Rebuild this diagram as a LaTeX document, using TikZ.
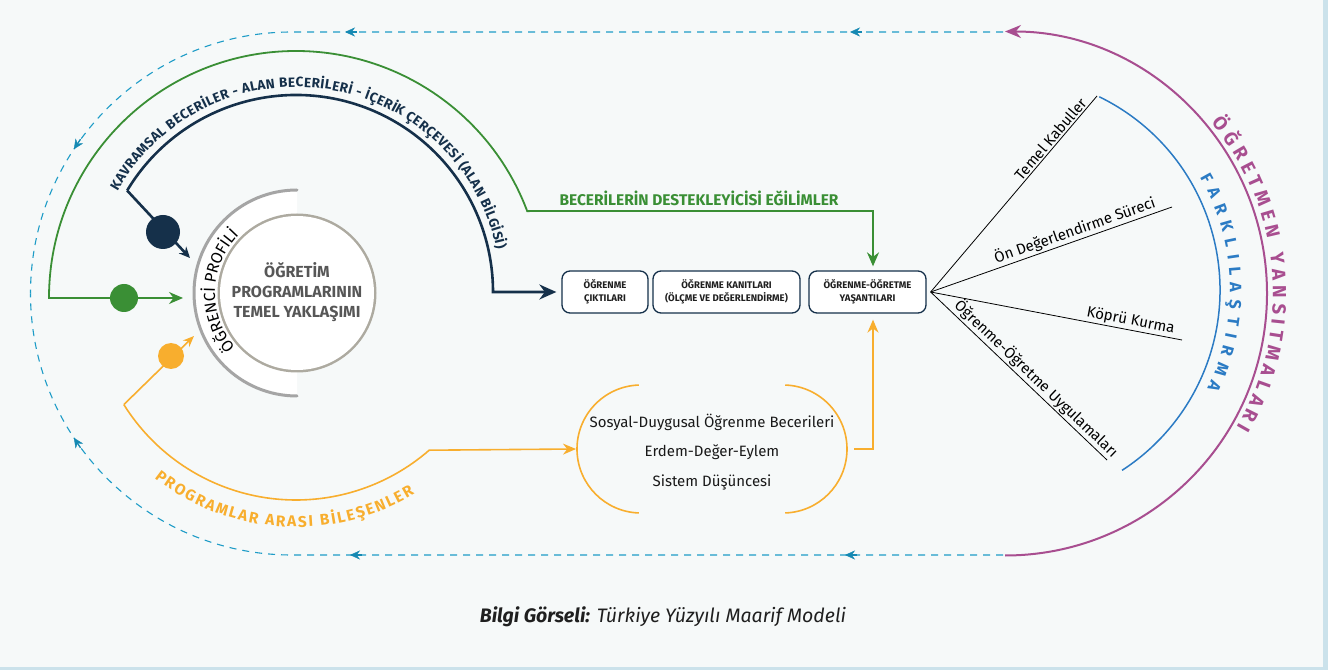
\documentclass[tikz,border=0pt]{standalone}
\usepackage{fontspec}
\setmainfont{Fira Sans}
\usetikzlibrary{arrows.meta,decorations.text,decorations.markings}
\definecolor{bg}{HTML}{F6F9F9}
\definecolor{strip}{HTML}{CBE2EB}
\definecolor{navy}{HTML}{15304A}
\definecolor{grn}{HTML}{3A8F35}
\definecolor{org}{HTML}{F8AE2E}
\definecolor{cyn}{HTML}{1E9CC7}
\definecolor{cyndark}{HTML}{1589B3}
\definecolor{mag}{HTML}{A84E90}
\definecolor{blu}{HTML}{2B7BC4}
\definecolor{ringgray}{HTML}{A5A5A5}
\definecolor{rimgray}{HTML}{ADAAA0}
\definecolor{rimlight}{HTML}{E6E4DC}
\definecolor{txtgray}{HTML}{575757}
\definecolor{capt}{HTML}{1F1F1F}
\newcommand\myfs[1]{\fontsize{#1}{#1}\selectfont}
\pgfdeclareradialshading{ballw}{\pgfpoint{0bp}{0bp}}{color(0bp)=(white); color(38bp)=(white); color(47bp)=(rimlight); color(50bp)=(rimlight)}
\begin{document}
\begin{tikzpicture}[x=1pt,y=1pt,
  dashline/.style={cyn, line width=1.1pt, dash pattern=on 7pt off 6pt},
  cytip/.style={decorate, decoration={markings,
     mark=at position #1 with {\draw[cyndark, line width=1.3pt] (-12pt,0) -- (-4pt,0); \arrow[cyndark]{Stealth[length=10pt,width=9pt]}}}},
  box/.style={draw=navy, line width=1.3pt, rounded corners=8pt, fill=white, align=center,
     font=\fontsize{9.6}{13}\selectfont\bfseries, text=black!88, minimum height=42pt, inner sep=0pt},
  fanline/.style={black, line width=0.8pt},
  fanlabel/.style={font=\myfs{15}, inner sep=1.5pt, sloped},
  dot/.style={circle, inner sep=0pt}
]
\useasboundingbox (0,0) rectangle (1328,670);
\fill[bg] (0,0) rectangle (1328,670);
\fill[strip] (1323,0) rectangle (1328,670);
\fill[strip] (0,0) rectangle (1328,3);

% ---------- coordinates ----------
\coordinate (C) at (297,377);      % centre of the core circle
\coordinate (Cd) at (296,378);     % dark arc centre
\coordinate (Co) at (296,373);     % orange arc centre
\coordinate (Dm) at (1005,376.5);  % magenta centre
\coordinate (Db) at (1005,380);    % blue centre
\coordinate (cyTR) at (1003,638);
\coordinate (cyBR) at (1003,115);

% ---------- cyan dashed loop ----------
\draw[dashline] (cyTR) -- (292,638) arc (90:180:261.5) coordinate (cyL);
\draw[dashline] (cyBR) -- (292,115) arc (270:180:261.5);
\foreach \p in {153pt,658pt,969pt}{
  \path[cytip=\p] (cyTR) -- (292,638) arc (90:180:261.5);}
\foreach \p in {158pt,653pt,969pt}{
  \path[cytip=\p] (cyBR) -- (292,115) arc (270:180:261.5);}

% ---------- magenta arc ----------
\draw[mag, line width=2pt, -{Stealth[length=16pt,width=13pt]}] (cyBR) ++(2,-0.5) arc (-90:90:262);
\path[decorate, decoration={text along path, text={|\myfs{19}\bfseries|ÖĞRETMEN YANSITMALARI},
   text align=fit to path, text color=mag}] (Dm) ++(39.5:268) arc (39.5:-30:268);

% ---------- blue arc ----------
\draw[blu, line width=1.5pt] (Db) ++(64:215) arc (64:-57:215);
\path[decorate, decoration={text along path, text={|\myfs{16.5}\bfseries|FARKLILAŞTIRMA},
   text align=fit to path, text color=blu}] (Db) ++(30:225) arc (30:-26:225);

% ---------- boxes ----------
\node[box, minimum width=86pt] (b1) at (605,378) {ÖĞRENME\\ÇIKTILARI};
\node[box, minimum width=147pt] (b2) at (726.5,378) {ÖĞRENME KANITLARI\\(ÖLÇME VE DEĞERLENDİRME)};
\node[box, minimum width=117pt] (b3) at (867.5,378) {ÖĞRENME-ÖĞRETME\\YAŞANTILARI};

% ---------- fan ----------
\coordinate (F0) at ([xshift=4pt]b3.east);
\coordinate (F1) at (1097,574);
\coordinate (F2) at (1172,463);
\coordinate (F3) at (1182,330);
\coordinate (F4) at (1107,210);
\draw[fanline] (F0) -- (F1) node[fanlabel, pos=0.96, anchor=south east] {Temel Kabuller};
\draw[fanline] (F0) -- (F2) node[fanlabel, pos=0.95, anchor=south east] {Ön Değerlendirme Süreci};
\draw[fanline] (F0) -- (F3) node[fanlabel, pos=0.97, anchor=south east] {Köprü Kurma};
\draw[fanline] (F0) -- (F4) node[fanlabel, pos=0.56, anchor=south] {Öğrenme-Öğretme Uygulamaları};

% ---------- green ----------
\coordinate (gtip) at (183,372);
\draw[grn, line width=1.8pt, {Stealth[length=14pt,width=12pt]}-{Stealth[length=14pt,width=12pt]}, shorten >=4pt]
  (gtip) -- (49,372) arc (180:20.6:247) -- (873,459) -- ([xshift=5.5pt]b3.north);
\node[dot, fill=grn, minimum size=28pt] (gdot) at (124,372) {};
\node[font=\myfs{15.5}\bfseries, text=grn] (glabel) at (699,472) {BECERİLERİN DESTEKLEYİCİSİ EĞİLİMLER};

% ---------- dark ----------
\coordinate (dktip) at (190,412);
\draw[navy, line width=2.6pt, -{Stealth[length=17pt,width=15pt]}, shorten >=5pt]
  (Cd) ++(149:197) coordinate (dkc) arc (149:0:197) -- (b1.west);
\draw[navy, line width=2.6pt, -{Stealth[length=11pt,width=10pt]}] (dkc) -- (dktip);
\node[dot, fill=navy, minimum size=34pt] (dkdot) at (163,438) {};
\path[decorate, decoration={text along path,
   text={|\myfs{13.5}\bfseries|KAVRAMSAL BECERİLER - ALAN BECERİLERİ - İÇERİK ÇERÇEVESİ (ALAN BİLGİSİ)},
   text align=fit to path, text color=navy}] (Cd) ++(150.5:205) arc (150.5:12:205);

% ---------- orange ----------
\node[align=center, font=\fontsize{15}{29.5}\selectfont, text=black!90] (sd) at (712,218)
  {Sosyal-Duygusal Öğrenme Becerileri\\Erdem-Değer-Eylem\\Sistem Düşüncesi};
\draw[org, line width=1.6pt] (641,221) ++(92:64) arc (92:268:64);
\draw[org, line width=1.6pt] (783,221) ++(88:64) arc (88:-88:64);
\coordinate (sdL) at (576,221);
\coordinate (sdR) at (848,221);
\coordinate (otip) at (194,334);
\draw[org, line width=1.6pt, -{Stealth[length=13pt,width=11pt]}]
  (Co) ++(212:203) coordinate (oc) arc (212:311:203) -- (sdL);
\draw[org, line width=1.6pt, -{Stealth[length=11pt,width=9pt]}] (oc) -- (otip);
\node[dot, fill=org, minimum size=26pt] (odot) at (171,314) {};
\draw[org, line width=1.6pt, -{Stealth[length=13pt,width=11pt]}, shorten >=6pt]
  ([xshift=6pt]sdR) -- (873,221) -- ([xshift=5.5pt]b3.south);
\path[decorate, decoration={text along path, text={|\myfs{15.5}\bfseries|PROGRAMLAR ARASI BİLEŞENLER},
   text align=fit to path, text color=org}] (Co) ++(232:230) arc (232:301:230);

% ---------- core ----------
\fill[white] (C) ++(90:103) arc (90:270:103) -- cycle;
\draw[ringgray, line width=3pt, line cap=round] (C) ++(90:103) arc (90:270:103);
\fill[rimgray] (C) circle (79.5);
\shade[shading=ballw] (C) circle (77);
\path[decorate, decoration={text along path, text={|\myfs{16}|ÖĞRENCİ PROFİLİ},
   text align=center, text color=black}] (C) ++(228:82) arc (228:128:82);
\node[align=center, font=\fontsize{16}{20}\selectfont\bfseries, text=txtgray] (core) at (297,378)
  {ÖĞRETİM\\PROGRAMLARININ\\TEMEL YAKLAŞIMI};

% ---------- caption ----------
\node[font=\myfs{19.5}\itshape, text=capt] (cap) at (663,53) {\textbf{Bilgi Görseli:} Türkiye Yüzyılı Maarif Modeli};
\end{tikzpicture}
\end{document}
